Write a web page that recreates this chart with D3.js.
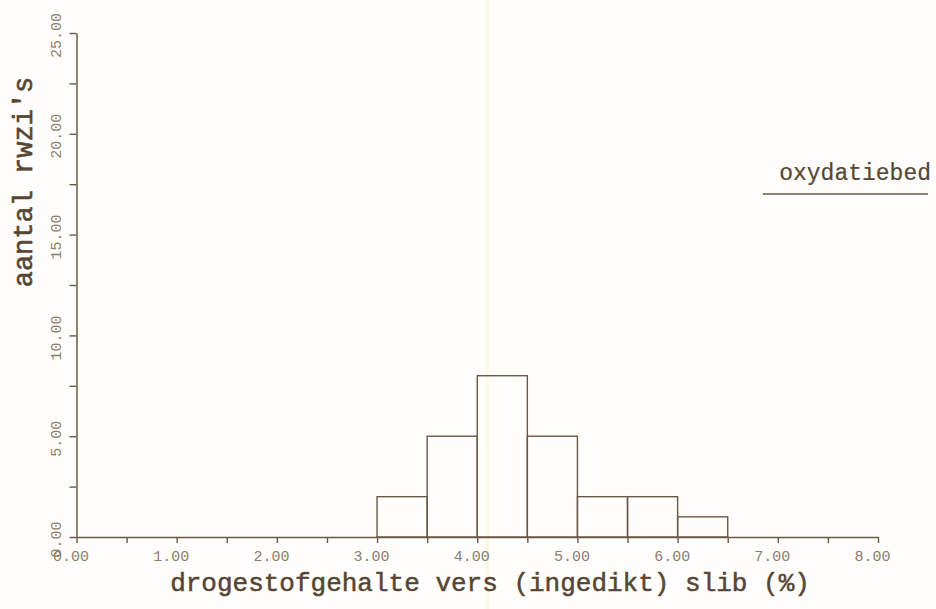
<!DOCTYPE html>
<html>
<head>
<meta charset="utf-8">
<script src="https://cdn.jsdelivr.net/npm/d3@7/dist/d3.min.js"></script>
<style>
  html, body { margin: 0; padding: 0; background: #fffefc; }
  svg { display: block; }
</style>
</head>
<body>
<script>
// ---- data ----
const binStarts = [3.0, 3.5, 4.0, 4.5, 5.0, 5.5, 6.0];
const binWidth = 0.5;
const counts = [2, 5, 8, 5, 2, 2, 1];
const xTicks = d3.range(0, 8.0001, 0.5);
const xLabels = [0, 1, 2, 3, 4, 5, 6, 7, 8];
const yTicks = d3.range(0, 25.0001, 2.5);
const yLabels = [0, 5, 10, 15, 20, 25];
const xTitle = "drogestofgehalte vers (ingedikt) slib (%)";
const yTitle = "aantal rwzi's";
const panelLabel = "oxydatiebed";

const W = 936, H = 609;
const ink = "#6a5846";
const textInk = "#574533";
const labelInk = "#8c7c6a";

const svg = d3.select("body").append("svg").attr("width", W).attr("height", H);
svg.append("rect").attr("width", W).attr("height", H).attr("fill", "#fffefc");
// faint scan artifact line
svg.append("rect").attr("x", 486).attr("y", 0).attr("width", 3).attr("height", H)
  .attr("fill", "#fdf6d8").attr("opacity", 0.8);

const x = d3.scaleLinear().domain([0, 8]).range([76.5, 878]);
const y = d3.scaleLinear().domain([0, 25]).range([537, 33]);

// bars
svg.append("g").selectAll("rect").data(binStarts).join("rect")
  .attr("x", (d) => x(d))
  .attr("y", (d, i) => y(counts[i]))
  .attr("width", (d) => x(d + binWidth) - x(d))
  .attr("height", (d, i) => y(0) - y(counts[i]))
  .attr("fill", "none").attr("stroke", ink).attr("stroke-width", 1.4);

// x axis
const xAxis = d3.axisBottom(x).tickValues(xTicks).tickSize(6).tickSizeOuter(0)
  .tickFormat((d) => xLabels.includes(d) ? d3.format(".2f")(d) : "");
const gx = svg.append("g").attr("transform", `translate(0,${y(0)})`).call(xAxis);
gx.select(".domain").attr("stroke", ink).attr("stroke-width", 1.5);
gx.selectAll(".tick line").attr("stroke", ink).attr("stroke-width", 1.4);
gx.selectAll(".tick text")
  .attr("fill", labelInk).attr("font-family", "Liberation Mono, monospace")
  .attr("font-size", 15).attr("dx", -6).attr("y", 13);

// y axis
const yAxis = d3.axisLeft(y).tickValues(yTicks).tickSize(7).tickSizeOuter(0)
  .tickFormat((d) => yLabels.includes(d) ? d3.format(".2f")(d) : "");
const gy = svg.append("g").attr("transform", `translate(${x(0)},0)`).call(yAxis);
gy.select(".domain").attr("stroke", ink).attr("stroke-width", 1.5);
gy.selectAll(".tick line").attr("stroke", ink).attr("stroke-width", 1.4);
gy.selectAll(".tick text")
  .attr("fill", labelInk).attr("font-family", "Liberation Mono, monospace")
  .attr("font-size", 15)
  .attr("x", 0).attr("dy", 0)
  .attr("text-anchor", "middle")
  .attr("transform", "translate(-16,2) rotate(-90)");

// axis titles
svg.append("text").attr("x", 490).attr("y", 591)
  .attr("text-anchor", "middle")
  .attr("font-family", "Liberation Mono, monospace").attr("font-size", 26)
  .attr("fill", textInk).attr("stroke", textInk).attr("stroke-width", 0.5)
  .text(xTitle);

svg.append("text")
  .attr("transform", "translate(32,182) rotate(-90)")
  .attr("text-anchor", "middle")
  .attr("font-family", "Liberation Mono, monospace").attr("font-size", 27)
  .attr("fill", textInk).attr("stroke", textInk).attr("stroke-width", 0.6)
  .text(yTitle);

// panel label
svg.append("text").attr("x", 931).attr("y", 180).attr("text-anchor", "end")
  .attr("font-family", "Liberation Mono, monospace").attr("font-size", 23)
  .attr("fill", textInk).attr("stroke", textInk).attr("stroke-width", 0.2)
  .text(panelLabel);
svg.append("line").attr("x1", 763).attr("x2", 928).attr("y1", 194).attr("y2", 194)
  .attr("stroke", ink).attr("stroke-width", 1.5);
</script>
</body>
</html>
